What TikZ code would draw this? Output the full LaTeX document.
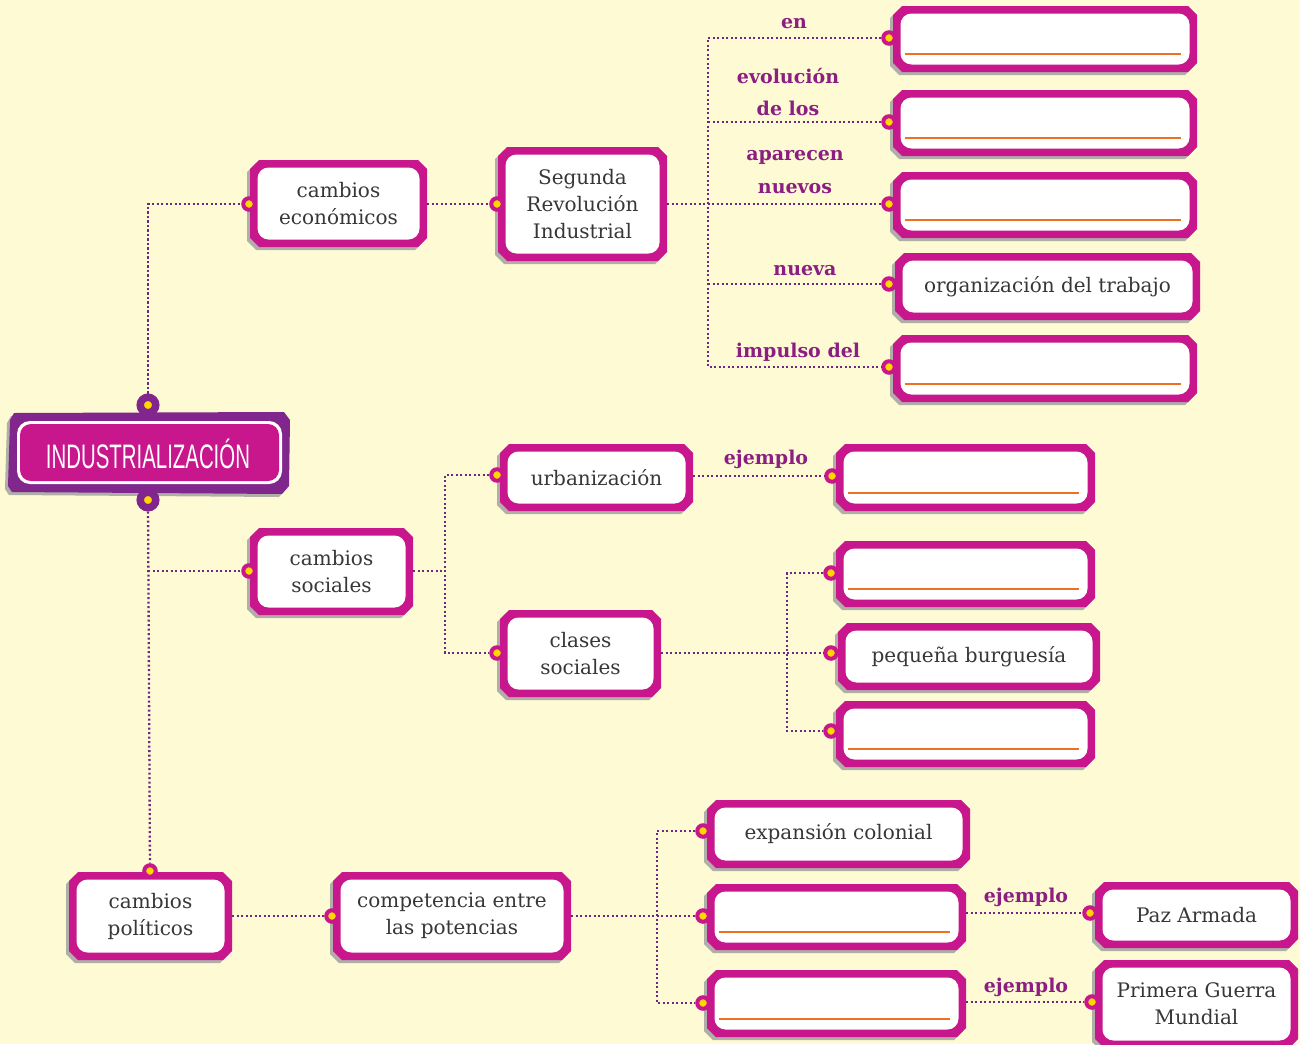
\documentclass[tikz,border=0pt]{standalone}
\usepackage{fontspec}
\setmainfont{DejaVu Serif}
\newfontfamily\titfont{Liberation Sans}
\definecolor{bgc}{RGB}{254,250,212}
\definecolor{mag}{RGB}{200,22,140}
\definecolor{purp}{RGB}{128,38,140}
\definecolor{labc}{RGB}{140,30,130}
\definecolor{linec}{RGB}{110,40,130}
\definecolor{orng}{RGB}{238,112,35}
\definecolor{yel}{RGB}{255,214,0}
\definecolor{txtc}{RGB}{55,55,55}
\definecolor{shad}{RGB}{175,175,168}
\tikzset{
 con/.style={linec, line width=2.3pt, dash pattern=on 2.2pt off 2.3pt},
 dotn/.style={circle, draw=mag, line width=4pt, fill=yel, minimum size=11.5pt, inner sep=0pt},
 idot/.style={circle, draw=purp, line width=7.5pt, fill=yel, minimum size=15.5pt, inner sep=0pt},
 boxtxt/.style={text=txtc, font=\fontsize{20}{27}\selectfont, align=center, inner sep=0pt},
 lab/.style={text=labc, font=\fontsize{19}{22}\selectfont\bfseries, inner sep=0pt},
}
\newcommand\chamf[4]{({#1+9},{#2}) -- ({#3-9},{#2}) -- ({#3},{#2+9}) -- ({#3},{#4-9}) -- ({#3-9},{#4}) -- ({#1+9},{#4}) -- ({#1},{#4-9}) -- ({#1},{#2+9}) -- cycle}
\newcommand\tagbox[6]{%
 \fill[shad] \chamf{#2-3}{#3+3}{#4-3}{#5+3};
 \fill[mag] \chamf{#2}{#3}{#4}{#5};
 \fill[white, rounded corners=11pt] ({#2+7.5},{#3+7.5}) rectangle ({#4-7.5},{#5-7.5});
 \node[boxtxt, minimum width={#4-#2}, minimum height={#5-#3}] (#1) at ({(#2+#4)/2},{(#3+#5)/2}) {#6};
}
\newcommand\blankbox[5]{%
 \tagbox{#1}{#2}{#3}{#4}{#5}{}
 \draw[orng, line width=2pt] ({#2+12},{#5-18}) -- ({#4-16},{#5-18});
}
\begin{document}
\begin{tikzpicture}[x=1pt,y=-1pt]
\fill[bgc] (0,0) rectangle (1300,1044);
\useasboundingbox (0,0) rectangle (1300,1044);
% boxes
\tagbox{ce}{250}{160}{427}{247}{cambios\\económicos}
\tagbox{sri}{498}{147}{667}{261}{Segunda\\Revolución\\Industrial}
\blankbox{r1}{893}{6}{1197}{72}
\blankbox{r2}{893}{90}{1197}{156}
\blankbox{r3}{893}{172}{1197}{238}
\tagbox{r4}{895}{253}{1200}{320}{organización del trabajo}
\blankbox{r5}{893}{335}{1197}{402}
\tagbox{cs}{250}{528}{413}{615}{cambios\\sociales}
\tagbox{urb}{500}{444}{693}{511}{urbanización}
\blankbox{ej1}{836}{444}{1095}{511}
\tagbox{cls}{500}{610}{661}{697}{clases\\sociales}
\blankbox{s1}{836}{541}{1095}{607}
\tagbox{s2}{838}{623}{1100}{690}{pequeña burguesía}
\blankbox{s3}{836}{701}{1095}{767}
\tagbox{cp}{69}{872}{232}{960}{cambios\\políticos}
\tagbox{comp}{333}{872}{571}{960}{competencia entre\\las potencias}
\tagbox{p1}{707}{800}{970}{868}{expansión colonial}
\blankbox{p2}{707}{884}{966}{950}
\blankbox{p3}{707}{970}{966}{1037}
\tagbox{paz}{1095}{882}{1298}{948}{Paz Armada}
\tagbox{pgm}{1095}{960}{1298}{1048}{Primera Guerra\\Mundial}
% title
\fill[shad] (11,416) -- (281,415) -- (287,423) -- (286,489) -- (279,497) -- (9,495) -- (5,489) -- (7,423) -- cycle;
\fill[purp] (14,413) -- (284,412) -- (290,420) -- (289,486) -- (282,494) -- (12,492) -- (8,486) -- (10,420) -- cycle;
\fill[white, rounded corners=13pt] (17,421) rectangle (282,484);
\fill[mag, rounded corners=11pt] (20,424) rectangle (279,481);
\node[text=white, font=\titfont\fontsize{34}{34}\selectfont, inner sep=0pt] (ind) at (148,454) {\scalebox{0.6}[1]{INDUSTRIALIZACIÓN}};
% dots
\node[idot] (itop) at (148,405) {};
\node[idot] (ibot) at (148,500) {};
\node[dotn] (dce) at (249,204) {};
\node[dotn] (dsri) at (497,204) {};
\node[dotn] (dr1) at (889,38) {};
\node[dotn] (dr2) at (889,122) {};
\node[dotn] (dr3) at (889,204) {};
\node[dotn] (dr4) at (889,284) {};
\node[dotn] (dr5) at (889,367) {};
\node[dotn] (dcs) at (249,571) {};
\node[dotn] (durb) at (497,475) {};
\node[dotn] (dej1) at (832,476) {};
\node[dotn] (dcls) at (497,653) {};
\node[dotn] (ds1) at (831,573) {};
\node[dotn] (ds2) at (831,653) {};
\node[dotn] (ds3) at (831,731) {};
\node[dotn] (dcp) at (150,871) {};
\node[dotn] (dcomp) at (332,916) {};
\node[dotn] (dp1) at (703,831) {};
\node[dotn] (dp2) at (703,916) {};
\node[dotn] (dp3) at (703,1003) {};
\node[dotn] (dpaz) at (1090,913) {};
\node[dotn] (dpgm) at (1092,1002) {};
% junctions
\coordinate (t2) at (708,122);
\coordinate (t4) at (708,284);
\coordinate (t5) at (708,367);
\coordinate (jcs) at (148,571);
\coordinate (jcls) at (445,653);
\coordinate (js3) at (787,731);
\coordinate (jp3) at (657,1003);
% connectors
\draw[con] (itop) |- (dce);
\draw[con] (dce -| ce.east) -- (dsri);
\draw[con] (dr1) -| (t5) -- (dr5);
\draw[con] (t2) -- (dr2);
\draw[con] (dr3 -| sri.east) -- (dr3);
\draw[con] (t4) -- (dr4);
\draw[con] (ibot) -- (dcp);
\draw[con] (jcs) -- (dcs);
\draw[con] (dcs -| cs.east) -- (jcls |- dcs);
\draw[con] (durb) -| (jcls) -- (dcls);
\draw[con] (dej1 -| urb.east) -- (dej1);
\draw[con] (ds2 -| cls.east) -- (ds2);
\draw[con] (ds1) -| (js3) -- (ds3);
\draw[con] (dcomp -| cp.east) -- (dcomp);
\draw[con] (dp2 -| comp.east) -- (dp2);
\draw[con] (dp1) -| (jp3) -- (dp3);
\draw[con] (dpaz -| p2.east) -- (dpaz);
\draw[con] (dpgm -| p3.east) -- (dpgm);
% labels
\node[lab] (l1) at (794,24) {en};
\node[lab] (l2) at (788,76) {evolución};
\node[lab] (l3) at (788,108) {de los};
\node[lab] (l4) at (795,157) {aparecen};
\node[lab] (l5) at (795,189) {nuevos};
\node[lab] (l6) at (805,271) {nueva};
\node[lab] (l7) at (798,352) {impulso del};
\node[lab] (l8) at (766,459) {ejemplo};
\node[lab] (l9) at (1026,897) {ejemplo};
\node[lab] (l10) at (1026,987) {ejemplo};
\end{tikzpicture}
\end{document}
